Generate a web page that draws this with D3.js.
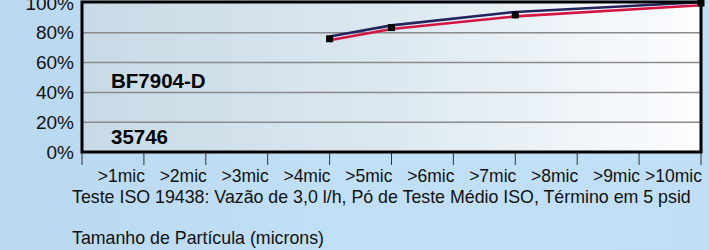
<!DOCTYPE html>
<html>
<head>
<meta charset="utf-8">
<script src="https://cdn.jsdelivr.net/npm/d3@7.9.0/dist/d3.min.js"></script>
<style>
  html, body { margin: 0; padding: 0; overflow: hidden; }
  svg { display: block; font-family: "Liberation Sans", Arial, sans-serif; }
</style>
</head>
<body>
<svg id="chart" width="709" height="250"></svg>
<script>
// categories (particle size) and series values (%)
const categories = [">1mic", ">2mic", ">3mic", ">4mic", ">5mic", ">6mic", ">7mic", ">8mic", ">9mic", ">10mic"];
const pointCats = [">4mic", ">5mic", ">7mic", ">10mic"];
const navyValues = [77.5, 85, 94, 100.5];
const redValues = [75, 82.5, 91, 98.5];
const markerValues = [76, 83.5, 92, 100];
const yTicks = [0, 20, 40, 60, 80, 100];
const modelLabel = "BF7904-D";
const codeLabel = "35746";
const caption1 = "Teste ISO 19438: Vazão de 3,0 l/h, Pó de Teste Médio ISO, Término em 5 psid";
const caption2 = "Tamanho de Partícula (microns)";

const svg = d3.select("#chart");
const W = 709, H = 250;
const plot = { left: 82, right: 701, top: 2, bottom: 152 };

// gradients
const defs = svg.append("defs");
const bg = defs.append("linearGradient").attr("id", "bg").attr("x1", 0).attr("x2", 1).attr("y1", 0).attr("y2", 0);
bg.append("stop").attr("offset", "0%").attr("stop-color", "#bad8ef");
bg.append("stop").attr("offset", "50%").attr("stop-color", "#c1dff5");
bg.append("stop").attr("offset", "100%").attr("stop-color", "#c0dff6");
const pg = defs.append("linearGradient").attr("id", "pg").attr("x1", 0).attr("x2", 1).attr("y1", 0).attr("y2", 0);
pg.append("stop").attr("offset", "0%").attr("stop-color", "#c7dae6");
pg.append("stop").attr("offset", "50%").attr("stop-color", "#dce8f0");
pg.append("stop").attr("offset", "100%").attr("stop-color", "#fcfdfe");

svg.append("rect").attr("width", W).attr("height", H).attr("fill", "url(#bg)");

// scales
const x = d3.scaleBand().domain(categories).range([plot.left, plot.right]).padding(0);
const xPos = c => x(c) + x.bandwidth();
const y = d3.scaleLinear().domain([0, 100]).range([plot.bottom, plot.top + 1]);

// plot background
svg.append("rect")
    .attr("x", plot.left).attr("y", plot.top)
    .attr("width", plot.right - plot.left).attr("height", plot.bottom - plot.top)
    .attr("fill", "url(#pg)");

// gridlines
svg.append("g")
    .selectAll("line")
    .data(yTicks.filter(d => d > 0 && d < 100))
    .join("line")
    .attr("x1", plot.left).attr("x2", plot.right)
    .attr("y1", d => y(d)).attr("y2", d => y(d))
    .attr("stroke", "#8a8a8a").attr("stroke-width", 1.5);

// y axis labels
const yAxis = d3.axisLeft(y).tickValues(yTicks).tickFormat(d => d + "%").tickSize(0).tickPadding(8);
svg.append("g")
    .attr("transform", `translate(${plot.left},0)`)
    .call(yAxis)
    .call(g => g.select(".domain").remove())
    .call(g => g.selectAll("text").attr("font-size", 19).attr("fill", "#111").attr("font-family", "Liberation Sans, Arial, sans-serif"));

// x axis: ticks at band edges, labels right-aligned to the tick
const edges = [plot.left].concat(categories.map(xPos));
svg.append("g")
    .selectAll("line")
    .data(edges)
    .join("line")
    .attr("x1", d => d).attr("x2", d => d)
    .attr("y1", plot.bottom).attr("y2", plot.bottom + 13)
    .attr("stroke", "#333").attr("stroke-width", 1);

svg.append("g")
    .selectAll("text")
    .data(categories)
    .join("text")
    .attr("x", d => xPos(d) + 1)
    .attr("y", 182)
    .attr("text-anchor", "end")
    .attr("font-size", 17.5)
    .attr("fill", "#111")
    .text(d => d);

// lines
const line = vals => d3.line()
    .x((d, i) => xPos(pointCats[i]))
    .y(d => y(d))(vals);

svg.append("path").attr("d", line(navyValues))
    .attr("fill", "none").attr("stroke", "#24245e").attr("stroke-width", 2.6);
svg.append("path").attr("d", line(redValues))
    .attr("fill", "none").attr("stroke", "#d41443").attr("stroke-width", 2.6);

// markers
svg.append("g")
    .selectAll("rect")
    .data(markerValues)
    .join("rect")
    .attr("x", (d, i) => xPos(pointCats[i]) - 3.5)
    .attr("y", d => y(d) - 3.5)
    .attr("width", 7).attr("height", 7)
    .attr("fill", "#000");

// plot border
svg.append("rect")
    .attr("x", plot.left).attr("y", plot.top)
    .attr("width", plot.right - plot.left).attr("height", plot.bottom - plot.top)
    .attr("fill", "none").attr("stroke", "#000").attr("stroke-width", 3);

// inline labels
svg.append("text").attr("x", 111).attr("y", 87.5)
    .attr("font-size", 20.5).attr("font-weight", "bold").attr("fill", "#000")
    .text(modelLabel);
svg.append("text").attr("x", 111).attr("y", 144)
    .attr("font-size", 20.5).attr("font-weight", "bold").attr("fill", "#000")
    .text(codeLabel);

// captions
svg.append("text").attr("x", 72).attr("y", 203)
    .attr("font-size", 17.8).attr("fill", "#111").text(caption1);
svg.append("text").attr("x", 72).attr("y", 244)
    .attr("font-size", 17.8).attr("fill", "#111").text(caption2);
</script>
</body>
</html>
